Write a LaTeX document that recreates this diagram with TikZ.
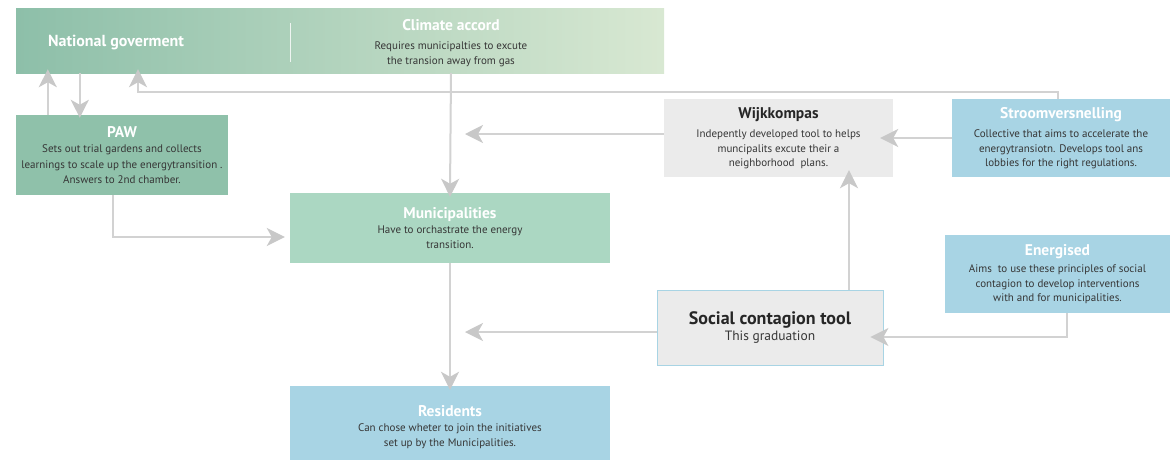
\documentclass[tikz,border=0pt]{standalone}
\usepackage{fontspec}
\setmainfont{PT Sans}
\usetikzlibrary{arrows.meta,calc}
\definecolor{barL}{HTML}{8DBFA9}
\definecolor{barM}{HTML}{ABD4C2}
\definecolor{barR}{HTML}{D8E8D2}
\definecolor{pawc}{HTML}{8FC1AA}
\definecolor{munic}{HTML}{ABD7C2}
\definecolor{bluec}{HTML}{A8D4E4}
\definecolor{greyc}{HTML}{EBEBEB}
\definecolor{linec}{HTML}{D2D2D2}
\definecolor{tipc}{HTML}{C8C8C8}
\definecolor{bodyc}{HTML}{363636}
\newcommand\wttl[1]{{\fontsize{15.5}{17}\selectfont\bfseries\color{white}#1}}
\newcommand\bttl[1]{{\fontsize{15.5}{17}\selectfont\bfseries\color{black!85}#1}}
\begin{document}
\begin{tikzpicture}[x=1pt,y=-1pt,
  box/.style={rectangle, inner sep=0pt, align=center, text=bodyc,
    font=\fontsize{11}{14.3}\selectfont},
  arr/.style={draw=linec, line width=2pt,
    -{Stealth[length=18pt,width=18pt,inset=5pt,color=tipc]}}]
\fill[white] (0,0) rectangle (1170,459);
\useasboundingbox (0,0) rectangle (1170,459);

% top bar
\node[rectangle, inner sep=0pt, minimum width=648pt, minimum height=65pt,
  left color=barL, middle color=barM, right color=barR] (bar) at (340,40.5) {};
\draw[white, line width=0.8pt, opacity=0.8] (290,23) -- (290,62);
\node[box, font=\fontsize{16}{18}\selectfont\bfseries, text=white] (natgov) at (116,42.5) {National goverment};
\node[box] (climate) at (451,43) {{\fontsize{15.5}{17}\selectfont\bfseries\color{white}Climate accord}\\[5pt]
  Requires municipalties to excute\\ the transion away from gas};

% boxes
\node[box, fill=pawc, minimum width=212pt, minimum height=80pt, font=\fontsize{11}{15.5}\selectfont] (paw) at (122,155)
  {\wttl{PAW}\\ Sets out trial gardens and collects\\ learnings to scale up the energytransition .\\ Answers to 2nd chamber.};
\node[box, fill=munic, minimum width=320pt, minimum height=70pt] (muni) at (450,228)
  {\wttl{Municipalities}\\[1pt] Have to orchastrate the energy\\ transition.};
\node[box, fill=bluec, minimum width=320pt, minimum height=82pt] (res) at (450,427)
  {\wttl{Residents}\\[1pt] Can chose wheter to join the initiatives\\ set up by the Municipalities.};
\node[box, fill=greyc, minimum width=229pt, minimum height=78pt] (wijk) at (778.5,138)
  {\bttl{Wijkkompas}\\[5pt] Indepently developed tool to helps\\ muncipalits excute their a\\ neighborhood\ \ plans.};
\node[box, fill=bluec, minimum width=218pt, minimum height=78pt] (stroom) at (1061,138)
  {\wttl{Stroomversnelling}\\[5pt] Collective that aims to accelerate the\\ energytransiotn. Develops tool ans\\ lobbies for the right regulations.};
\node[box, fill=bluec, minimum width=225pt, minimum height=78pt] (energ) at (1057.5,274)
  {\wttl{Energised}\\[3pt] Aims\ \ to use these principles of social\\ contagion to develop interventions\\ with and for municipalities.};
\node[box, fill=greyc, draw=bluec, line width=0.8pt, minimum width=226pt, minimum height=75pt] (soc) at (770,327.5)
  {{\fontsize{18}{20}\selectfont\bfseries\color{black!85}Social contagion tool}\\[2pt]
   {\fontsize{13.5}{15}\selectfont This graduation}};

% connectors
\coordinate (k1) at (138,92);
\coordinate (k2) at (113,237);
\coordinate (w1) at (465,134);
\coordinate (s1) at (465,332);
\coordinate (e1) at (1067,337);

\draw[arr, shorten >=-4pt] ($(paw.north west)+(32,0)$) -- ($(bar.south west)+(32,0)$);
\draw[arr, shorten >=-3pt] ($(bar.south west)+(64,0)$) -- ($(paw.north west)+(64,0)$);
\draw[arr, shorten >=-4pt] ($(stroom.north)+(-3,0)$) |- (k1) -- (k1 |- bar.south);
\draw[arr, shorten >=-4pt] (climate |- bar.south) -- (muni.north);
\draw[arr, shorten >=5pt] (k2 |- paw.south) |- (muni.west |- k2);
\draw[arr] (wijk.west |- w1) -- (w1);
\draw[arr, shorten >=-13pt] (stroom.west) -- (wijk.east);
\draw[arr, shorten >=-7pt] (soc.north -| 849,0) -- (wijk.south -| 849,0);
\draw[arr] (soc.west |- s1) -- (s1);
\draw[arr, shorten >=-4pt] (muni.south) -- (res.north);
\draw[arr, shorten >=-13pt] (e1 |- energ.south) |- (soc.east |- e1);
\end{tikzpicture}
\end{document}
